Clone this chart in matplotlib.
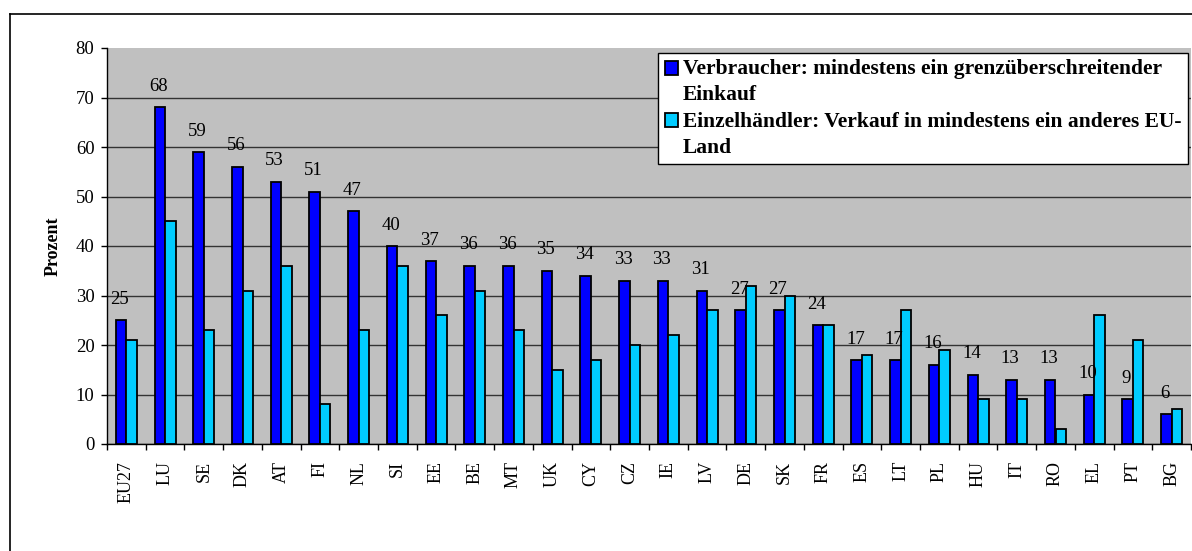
import matplotlib.pyplot as plt
from matplotlib.lines import Line2D

plt.rcParams['font.family'] = ['Liberation Serif', 'DejaVu Serif']

countries = ['EU27', 'LU', 'SE', 'DK', 'AT', 'FI', 'NL', 'SI', 'EE', 'BE', 'MT', 'UK', 'CY', 'CZ',
             'IE', 'LV', 'DE', 'SK', 'FR', 'ES', 'LT', 'PL', 'HU', 'IT', 'RO', 'EL', 'PT', 'BG']
verbraucher = [25, 68, 59, 56, 53, 51, 47, 40, 37, 36, 36, 35, 34, 33,
               33, 31, 27, 27, 24, 17, 17, 16, 14, 13, 13, 10, 9, 6]
einzelhaendler = [21, 45, 23, 31, 36, 8, 23, 36, 26, 31, 23, 15, 17, 20,
                  22, 27, 32, 30, 24, 18, 27, 19, 9, 9, 3, 26, 21, 7]

label_v = 'Verbraucher: mindestens ein grenzüberschreitender\nEinkauf'
label_e = 'Einzelhändler: Verkauf in mindestens ein anderes EU-\nLand'

fig = plt.figure(figsize=(11.92, 5.51), dpi=100)
ax = fig.add_axes([107 / 1192, 1 - 444 / 551, 1084 / 1192, 396 / 551])

# outer chart frame (cut off at the right and bottom)
fig.add_artist(Line2D([10 / 1192, 10 / 1192], [0, 1 - 14 / 551], color='black', lw=1.2))
fig.add_artist(Line2D([10 / 1192, 1], [1 - 14 / 551, 1 - 14 / 551], color='black', lw=1.2))

x = list(range(len(countries)))
w = 0.27
ax.bar([i - w / 2 for i in x], verbraucher, w, color='#0000FF', edgecolor='black', lw=1.3,
       label=label_v, zorder=3)
ax.bar([i + w / 2 for i in x], einzelhaendler, w, color='#00CCFF', edgecolor='black', lw=1.3,
       label=label_e, zorder=3)

for i, v in enumerate(verbraucher):
    ax.annotate(str(v), (i - w / 2, v), xytext=(-1, 15), textcoords='offset points',
                ha='center', va='center', fontsize=13.5)

ax.set_facecolor('#C0C0C0')
ax.set_xlim(-0.5, len(countries) - 0.5)
ax.set_ylim(0, 80)
ax.set_yticks(range(0, 81, 10))
ax.yaxis.grid(True, color='#333333', lw=1.0, zorder=0)
ax.set_axisbelow(True)
ax.get_ygridlines()[-1].set_visible(False)

ax.set_xticks(x)
ax.set_xticklabels(countries, rotation=90, fontsize=13)
ax.set_xticks([i - 0.5 for i in range(len(countries) + 1)], minor=True)
ax.tick_params(axis='x', which='major', length=0, pad=12)
ax.tick_params(axis='x', which='minor', length=4, width=1)
ax.tick_params(axis='y', length=4, width=1, labelsize=13.5, pad=5)

for s in ['top', 'right']:
    ax.spines[s].set_visible(False)
ax.spines['left'].set_linewidth(1)
ax.spines['bottom'].set_linewidth(1)

ax.set_ylabel('Prozent', fontsize=13, fontweight='bold', labelpad=10)

leg = ax.legend(loc='upper right', bbox_to_anchor=((1188 - 107) / 1084, 1 - 5 / 396),
                prop={'weight': 'bold', 'size': 15.5}, frameon=True, fancybox=False,
                edgecolor='black', framealpha=1, handlelength=0.6, handleheight=0.6,
                handletextpad=0.25, borderpad=0.3, labelspacing=0.3, borderaxespad=0)
leg.get_frame().set_linewidth(1)
for t in leg.get_texts():
    t.set_linespacing(1.4)
# squares sit beside the first line of each entry
for h in leg.legend_handles:
    h.set_y(h.get_y() + 10.5)

fig.savefig('out.png', dpi=100)
